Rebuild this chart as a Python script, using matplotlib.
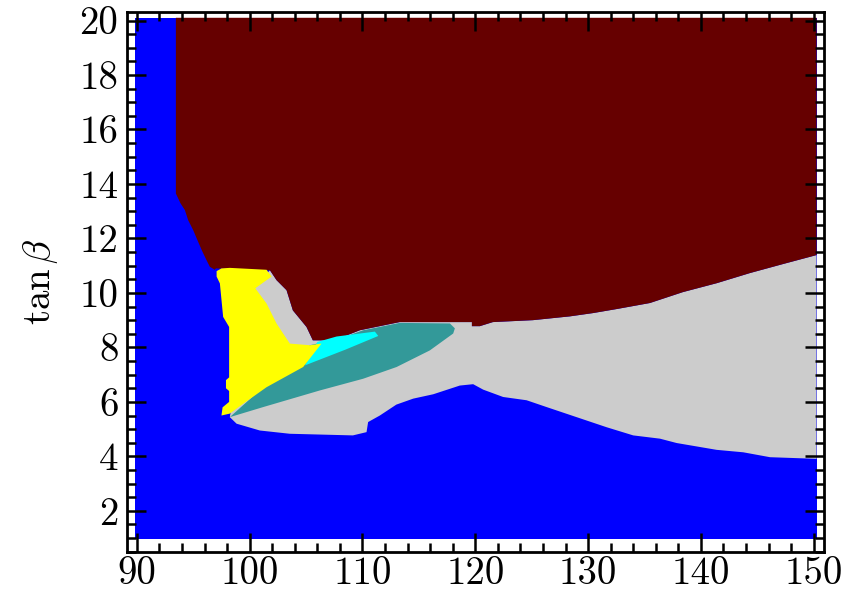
import matplotlib
matplotlib.use('Agg')
import matplotlib.pyplot as plt
from matplotlib.ticker import MultipleLocator

plt.rcParams['font.family'] = 'serif'
plt.rcParams['font.serif'] = ['cmr10']
plt.rcParams['mathtext.fontset'] = 'cm'
plt.rcParams['axes.unicode_minus'] = False

# region boundaries (x = mass, y = tan beta)
# full scanned range
x_range = [89.8, 150.25]
y_range = [0.95, 20.1]

# lower edge of the excluded (dark red) region, right -> left
red_bot_x = [150.25, 147.27, 144.35, 141.42, 138.4, 135.48, 132.55, 130.43, 128.39, 125.1,
             121.56, 120.4, 119.7, 119.7, 113.3, 109.77, 108.6, 107.7, 105.6, 105.04,
             103.83, 103.27, 102.38, 101.8, 97.0]
red_bot_y = [11.39, 11.06, 10.73, 10.36, 10.03, 9.63, 9.41, 9.26, 9.14, 9.0,
             8.93, 8.78, 8.78, 8.93, 8.93, 8.63, 8.44, 8.26, 8.26, 8.75,
             9.36, 10.1, 10.47, 10.83, 10.9]

# left edge of the dark red region, bottom -> top
red_left_x = [96.91, 96.47, 96.18, 95.82, 95.43, 94.99, 94.55, 94.26, 93.87, 93.46, 93.46]
red_left_y = [10.85, 10.96, 11.2, 11.51, 11.88, 12.31, 12.67, 13.04, 13.29, 13.65, 20.1]

# tip of the grey wedge that reaches into the yellow region
wedge_tip_x = [100.3]
wedge_tip_y = [10.2]

# upper edge of the blue region (below the grey band), left -> right
blue_top_x = [98.24, 98.84, 100.9, 103.56, 109.15, 110.36, 110.5, 111.54, 113.0, 114.5,
              116.27, 118.63, 119.81, 120.7, 122.47, 124.55, 126.32, 128.98, 131.64, 134.0,
              136.37, 137.85, 141.39, 143.75, 146.12, 150.25]
blue_top_y = [5.44, 5.2, 4.95, 4.83, 4.77, 4.89, 5.26, 5.5, 5.9, 6.12,
              6.28, 6.6, 6.65, 6.45, 6.18, 6.06, 5.81, 5.44, 5.07, 4.77,
              4.65, 4.49, 4.24, 4.15, 3.97, 3.91]

# teal band
teal_x = [98.24, 101.2, 106.22, 110.06, 113.02, 115.97, 118.04, 118.19, 117.75, 113.3,
          110.06, 108.0, 105.34]
teal_y = [5.44, 5.81, 6.42, 6.85, 7.28, 7.89, 8.51, 8.7, 8.88, 8.9,
          8.63, 8.33, 8.08]

# cyan sliver
cyan_x = [104.9, 106.0, 107.7, 111.1, 111.4, 108.5]
cyan_y = [7.34, 8.2, 8.4, 8.58, 8.42, 7.92]

# yellow region
yellow_x = [97.07, 97.5, 98.24, 101.5, 101.94, 100.5, 101.5, 102.38, 103.56, 105.34,
            106.37, 104.74, 101.5, 99.42, 98.24, 97.5, 97.6, 98.18, 98.18, 97.9,
            97.9, 98.18, 98.18, 97.65, 97.36, 97.07]
yellow_y = [10.8, 10.9, 10.92, 10.85, 10.6, 10.17, 9.61, 8.88, 8.14, 8.08,
            8.14, 7.28, 6.54, 5.93, 5.57, 5.5, 5.8, 6.0, 6.4, 6.5,
            6.8, 6.9, 8.75, 9.12, 10.35, 10.6]

c_blue = '#0000ff'
c_red = '#660000'
c_grey = '#cccccc'
c_teal = '#339999'
c_cyan = '#00ffff'
c_yellow = '#ffff00'

fig = plt.figure(figsize=(8.56, 5.93), dpi=100)
ax = fig.add_axes([0.148, 0.0696, 0.8145, 0.9096])

# background scan area
ax.fill([x_range[0], x_range[1], x_range[1], x_range[0]],
        [y_range[0], y_range[0], y_range[1], y_range[1]], color=c_blue, lw=0)

# grey band: between blue top and red bottom (left end hidden under yellow)
grey_x = red_bot_x[:-1] + wedge_tip_x + blue_top_x
grey_y = red_bot_y[:-1] + wedge_tip_y + blue_top_y
ax.fill(grey_x, grey_y, color=c_grey, lw=0)

# dark red region
rx = [93.46, 150.25] + red_bot_x + red_left_x
ry = [20.1, 20.1] + red_bot_y + red_left_y
ax.fill(rx, ry, color=c_red, lw=0)

ax.fill(teal_x, teal_y, color=c_teal, lw=0)
ax.fill(cyan_x, cyan_y, color=c_cyan, lw=0)
ax.fill(yellow_x, yellow_y, color=c_yellow, lw=0)

ax.set_xlim(89.1, 150.9)
ax.set_ylim(0.5, 20.3)
ax.xaxis.set_major_locator(MultipleLocator(10))
ax.xaxis.set_minor_locator(MultipleLocator(2))
ax.yaxis.set_minor_locator(MultipleLocator(0.5))
ax.set_yticks([2, 4, 6, 8, 10, 12, 14, 16, 18, 20])

ax.tick_params(which='both', direction='in', top=True, right=True,
               labelsize=28, width=1.8, pad=6)
ax.tick_params(axis='x', which='both', pad=3)
ax.tick_params(which='major', length=14)
ax.tick_params(which='minor', length=6.5)
for s in ax.spines.values():
    s.set_linewidth(2)

ax.set_ylabel(r'$\tan\beta$', fontsize=28, labelpad=14)

fig.savefig('out.png', dpi=100)
